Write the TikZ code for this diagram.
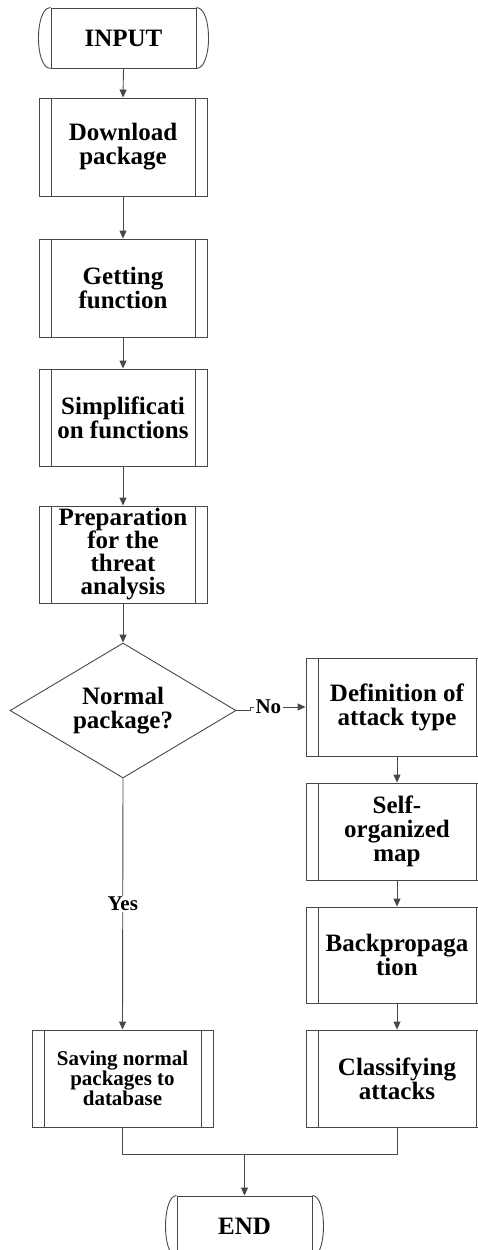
\documentclass[tikz,border=0pt]{standalone}
\usepackage{fontspec}
\setmainfont{Liberation Serif}
\usetikzlibrary{arrows.meta,shapes.geometric}
\newcommand\fbig{\fontsize{25}{24}\selectfont\bfseries}
\newcommand\fsmall{\fontsize{21}{20}\selectfont\bfseries}
\tikzset{
  ln/.style={draw=black!72, line width=0.9pt},
  arr/.style={ln, -{Triangle[length=8pt,width=7pt]}},
  lbl/.style={fill=white, inner sep=1.5pt, font=\fsmall, text=black},
  proc/.style={ln, rectangle, inner sep=0pt, minimum width=#1, align=center, font=\fbig,
    path picture={
      \draw[black!72, line width=0.9pt] ([xshift=12pt]path picture bounding box.north west) -- ([xshift=12pt]path picture bounding box.south west);
      \draw[black!72, line width=0.9pt] ([xshift=-12pt]path picture bounding box.north east) -- ([xshift=-12pt]path picture bounding box.south east);
    }},
  term/.style={ln, rectangle, inner sep=0pt, minimum width=#1, minimum height=60pt, align=center, font=\fbig},
  dec/.style={ln, diamond, inner sep=0pt, minimum width=226pt, minimum height=135pt, aspect=1.67, align=center, font=\fbig}
}
\begin{document}
\begin{tikzpicture}[x=1pt,y=-1pt]
\useasboundingbox (0,0) rectangle (477,1250);
% left column
\node[term=145pt] (in) at (123.5,38) {INPUT};
\draw[ln] (in.north west) to[out=180,in=180,looseness=0.68] (in.south west);
\draw[ln] (in.north east) to[out=0,in=0,looseness=0.68] (in.south east);
\node[proc=168pt, minimum height=98pt] (dl) at (123,147) {Download\\package};
\node[proc=168pt, minimum height=98pt] (gf) at (123,288) {Getting\\function};
\node[proc=168pt, minimum height=97pt] (sf) at (123,417.5) {Simplificati\\on functions};
\node[proc=168pt, minimum height=97pt, font=\fontsize{25}{23}\selectfont\bfseries] (pr) at (123,554.5) {Preparation\\for the\\threat\\analysis};
\node[dec] (d) at (123,710.5) {Normal\\package?};
\node[proc=181pt, minimum height=97pt, font=\fsmall] (sav) at (122.5,1078.5) {Saving normal\\packages to\\database};
% right column
\node[proc=182pt, minimum height=98pt] (def) at (397,707) {Definition of\\attack type};
\node[proc=182pt, minimum height=97pt] (som) at (397,831.5) {Self-\\organized\\map};
\node[proc=182pt, minimum height=96pt] (bp) at (397,955) {Backpropaga\\tion};
\node[proc=182pt, minimum height=97pt] (cls) at (397,1078.5) {Classifying\\attacks};
% end
\node[term=135pt] (end) at (244.5,1226) {END};
\draw[ln] (end.north west) to[out=180,in=180,looseness=0.62] (end.south west);
\draw[ln] (end.north east) to[out=0,in=0,looseness=0.62] (end.south east);
% connectors
\draw[arr] (in.south) -- (dl.north);
\draw[arr] (dl.south) -- (gf.north);
\draw[arr] (gf.south) -- (sf.north);
\draw[arr] (sf.south) -- (pr.north);
\draw[arr] (pr.south) -- (d.north);
\coordinate (j1) at (250,710.5);
\coordinate (j2) at (250,707);
\draw[arr] (d.east) -- (j1) -- (j2) -- node[lbl, pos=0.33] {No} (def.west);
\draw[arr] (d.south) -- node[lbl] {Yes} (sav.north);
\draw[arr] (def.south) -- (som.north);
\draw[arr] (som.south) -- (bp.north);
\draw[arr] (bp.south) -- (cls.north);
\coordinate (m) at (244.5,1154);
\draw[ln] (sav.south) |- (m) -| (cls.south);
\draw[arr] (m) -- (end.north);
\end{tikzpicture}
\end{document}
